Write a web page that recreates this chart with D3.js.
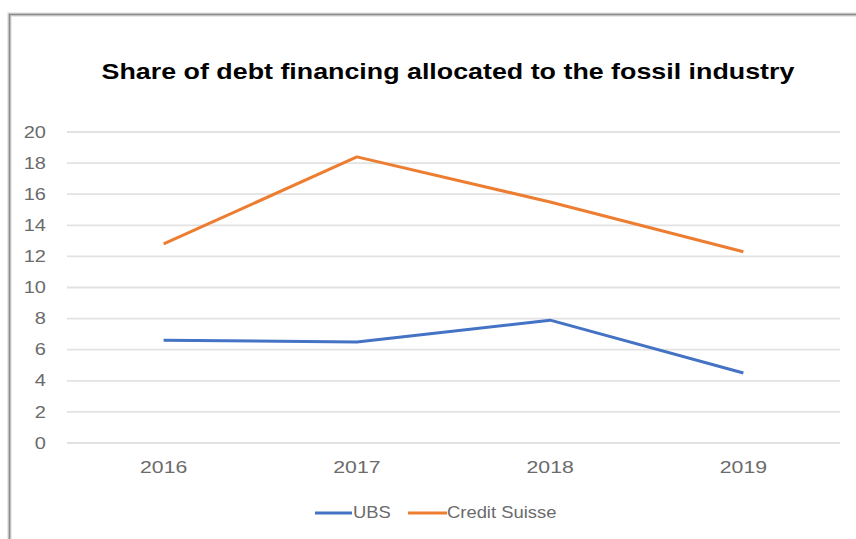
<!DOCTYPE html>
<html>
<head>
<meta charset="utf-8">
<script src="https://cdn.jsdelivr.net/npm/d3@7"></script>
<style>
  body { margin: 0; background: #fff; }
  svg { display: block; }
</style>
</head>
<body>
<svg id="chart" width="856" height="539"></svg>
<script>
const years = ['2016', '2017', '2018', '2019'];
const ubs = [6.6, 6.5, 7.9, 4.5];
const creditSuisse = [12.8, 18.4, 15.5, 12.3];
const yTicks = [0, 2, 4, 6, 8, 10, 12, 14, 16, 18, 20];

const series = [
  { name: 'UBS', values: ubs, color: '#4472C4' },
  { name: 'Credit Suisse', values: creditSuisse, color: '#ED7D31' },
];

const width = 856, height = 539;
const margin = { top: 132, right: 16, bottom: 96, left: 67 };
const font = 'Liberation Sans, Arial, sans-serif';
const stretch = 1.22; // the source picture is a bit wider than tall

const svg = d3.select('#chart');

// frame (top + left edge of the cropped chart box)
const framePath = `M9.5,${height} V14.5 H${width}`;
svg.append('path')
  .attr('d', framePath)
  .attr('fill', 'none')
  .attr('stroke', '#d4d4d4')
  .attr('stroke-width', 4);
svg.append('path')
  .attr('d', framePath)
  .attr('fill', 'none')
  .attr('stroke', '#8a8a8a')
  .attr('stroke-width', 1.5);

svg.append('g')
  .attr('transform', 'translate(448,79)')
  .append('text')
  .attr('transform', `scale(${stretch},1)`)
  .attr('text-anchor', 'middle')
  .attr('font-family', font)
  .attr('font-weight', 'bold')
  .attr('font-size', 22)
  .attr('fill', '#000')
  .text('Share of debt financing allocated to the fossil industry');

const x = d3.scaleBand()
  .domain(years)
  .range([margin.left, width - margin.right]);

const y = d3.scaleLinear()
  .domain([0, 20])
  .range([height - margin.bottom, margin.top]);

// gridlines
svg.append('g')
  .selectAll('line')
  .data(yTicks)
  .join('line')
  .attr('x1', margin.left)
  .attr('x2', width - margin.right)
  .attr('y1', d => y(d))
  .attr('y2', d => y(d))
  .attr('stroke', '#e2e2e2')
  .attr('stroke-width', 1.8);

// y axis labels
const yAxis = svg.append('g')
  .attr('transform', `translate(${margin.left},0)`)
  .call(d3.axisLeft(y).tickValues(yTicks).tickSize(0));
yAxis.select('.domain').remove();
yAxis.selectAll('text')
  .attr('font-family', font)
  .attr('font-size', 16)
  .attr('fill', '#6b6b6b')
  .attr('x', -21 / 1.25)
  .attr('transform', 'scale(1.25,1)');

// x axis labels
const xAxis = svg.append('g')
  .attr('transform', `translate(0,${y(0)})`)
  .call(d3.axisBottom(x).tickSize(0).tickPadding(18));
xAxis.select('.domain').remove();
xAxis.selectAll('text')
  .attr('font-family', font)
  .attr('font-size', 17)
  .attr('fill', '#6b6b6b')
  .attr('transform', 'scale(1.25,1)')
  .attr('x', 0);
// scaling shifts the centre, so move each tick back to its band centre
xAxis.selectAll('.tick')
  .attr('transform', d => `translate(${x(d) + x.bandwidth() / 2},0)`);

const line = d3.line()
  .x((d, i) => x(years[i]) + x.bandwidth() / 2)
  .y(d => y(d));

svg.append('g')
  .selectAll('path')
  .data(series)
  .join('path')
  .attr('d', d => line(d.values))
  .attr('fill', 'none')
  .attr('stroke', d => d.color)
  .attr('stroke-width', 3)
  .attr('stroke-linejoin', 'round');

// legend
const legendX = [315, 408];
const legendItem = svg.append('g')
  .selectAll('g')
  .data(series)
  .join('g')
  .attr('transform', (d, i) => `translate(${legendX[i]},513)`);
legendItem.append('line')
  .attr('x1', 0)
  .attr('x2', (d, i) => i === 0 ? 37 : 39)
  .attr('stroke', d => d.color)
  .attr('stroke-width', 3);
legendItem.append('text')
  .attr('transform', (d, i) => `translate(${i === 0 ? 38 : 39},5) scale(1.15,1)`)
  .attr('font-family', 'Liberation Sans Narrow, Liberation Sans, Arial, sans-serif')
  .attr('font-size', 16)
  .attr('fill', '#6b6b6b')
  .text(d => d.name);
</script>
</body>
</html>
